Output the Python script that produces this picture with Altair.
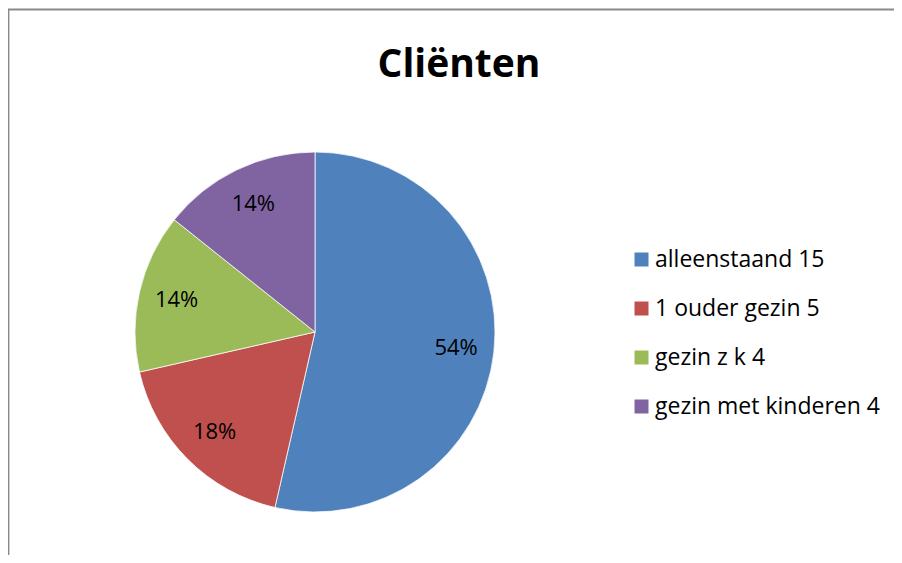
import altair as alt
import pandas as pd

categories = ["alleenstaand 15", "1 ouder gezin 5", "gezin z k 4", "gezin met kinderen 4"]
values = [15, 5, 4, 4]
colors = ["#4F81BD", "#C0504D", "#9BBB59", "#8064A2"]
title_text = ["Cliënten"]

total = sum(values)
df = pd.DataFrame({
    "cat": categories,
    "value": values,
    "idx": list(range(len(values))),
    "label": [f"{round(v / total * 100)}%" for v in values],
})

W, H = 885, 545
CX, CY = 306, 322
FONT = "Open Sans"
BORDER = "#898989"

base = alt.Chart(df).encode(
    theta=alt.Theta("value:Q", stack=True),
    order=alt.Order("idx:Q"),
    x=alt.value(CX),
    y=alt.value(CY),
)

pie = base.mark_arc(outerRadius=180, stroke="white", strokeWidth=0.75).encode(
    color=alt.Color(
        "cat:N",
        scale=alt.Scale(domain=categories, range=colors),
        legend=alt.Legend(
            title=None,
            orient="none",
            legendX=621,
            legendY=238,
            symbolType="square",
            symbolSize=196,
            symbolStrokeWidth=0,
            labelFont=FONT,
            labelFontSize=23,
            labelColor="black",
            rowPadding=25,
            labelOffset=2,
            padding=0,
            labelLimit=400,
        ),
    )
)

labels = base.mark_text(radius=142, font=FONT, fontSize=22, color="black").encode(
    text="label:N"
)

title = (
    alt.Chart(pd.DataFrame({"t": title_text}))
    .mark_text(font=FONT, fontSize=39, fontWeight="bold", color="black", baseline="alphabetic")
    .encode(text="t:N", x=alt.value(450), y=alt.value(67))
)

frame_src = alt.Chart(pd.DataFrame({"k": [0]}))
top_line = frame_src.mark_rule(color=BORDER, strokeWidth=1.8).encode(
    x=alt.value(-1), x2=alt.value(W + 20), y=alt.value(-0.5)
)
left_line = frame_src.mark_rule(color=BORDER, strokeWidth=1.8).encode(
    x=alt.value(-0.5), y=alt.value(-1), y2=alt.value(H + 20)
)

chart = (
    alt.layer(pie, labels, title, top_line, left_line)
    .properties(
        width=W,
        height=H,
        autosize="none",
        padding={"left": 1, "top": 2, "right": 0, "bottom": 0},
        background="white",
    )
    .configure_view(stroke=None)
)

chart.save("out.html", embed_options={"renderer": "svg", "actions": False})
